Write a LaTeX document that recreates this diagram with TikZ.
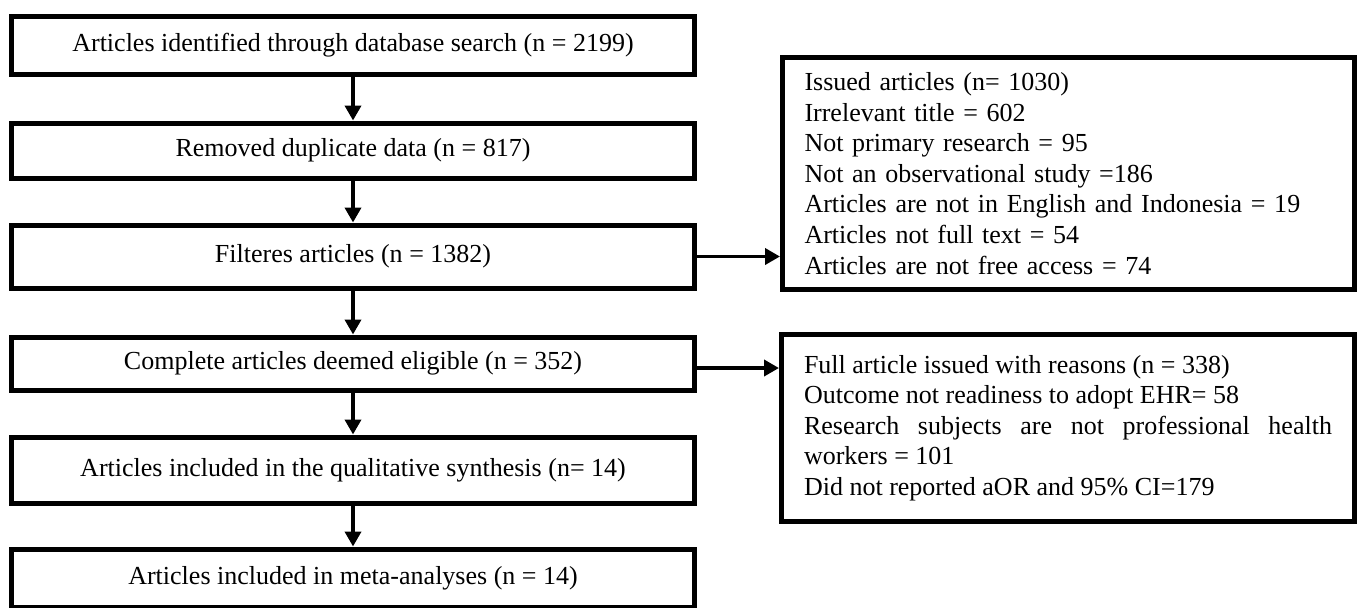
\documentclass[tikz,border=0pt]{standalone}
\usepackage{fontspec}
\setmainfont{Liberation Serif}
\usetikzlibrary{arrows.meta}

\begin{document}
\begin{tikzpicture}[
  box/.style={draw,line width=2.85pt,minimum width=13.66cm,inner sep=0pt,font=\fontsize{14.8}{17.4}\selectfont},
  note/.style={draw,line width=2.85pt,inner sep=0pt,text width=10.56cm,font=\fontsize{14.8}{17.4}\selectfont},
  arr/.style={line width=2.1pt,-{Triangle[length=0.3cm,width=0.32cm]}}
]
  \useasboundingbox (0,0) rectangle (27.26,-12.14);
  \node[box,minimum height=1.16cm] (search) at (7.06,-0.90) {Articles identified through database search (n = 2199)};
  \node[box,minimum height=1.10cm] (dupl) at (7.06,-3.01) {Removed duplicate data (n = 817)};
  \node[box,minimum height=1.26cm] (filt) at (7.06,-5.13) {Filteres articles (n = 1382)};
  \node[box,minimum height=1.06cm] (elig) at (7.06,-7.27) {Complete articles deemed eligible (n = 352)};
  \node[box,minimum height=1.32cm] (quali) at (7.06,-9.40) {Articles included in the qualitative synthesis (n= 14)};
  \node[box,minimum height=1.16cm] (meta) at (7.06,-11.56) {Articles included in meta-analyses (n = 14)};
  \node[note,align=left,minimum width=11.44cm,minimum height=4.64cm] (issued) at (21.37,-3.47) {Issued articles (n= 1030)\\
    Irrelevant title = 602\\
    Not primary research = 95\\
    Not an observational study =186\\
    Articles are not in English and Indonesia = 19\\
    Articles not full text = 54\\
    Articles are not free access = 74};
  \node[note,align=justify,minimum width=11.46cm,minimum height=3.74cm] (full) at (21.36,-8.56) {Full article issued with reasons (n = 338)\\
    Outcome not readiness to adopt EHR= 58\\
    Research subjects are not professional health\linebreak workers = 101\\
    Did not reported aOR and 95\% CI=179};
  \draw[arr] (search) -- (dupl);
  \draw[arr] (dupl) -- (filt);
  \draw[arr] (filt) -- (elig);
  \draw[arr] (elig) -- (quali);
  \draw[arr] (quali) -- (meta);
  \draw[arr] (filt.east) -- (filt.east -| issued.west);
  \draw[arr] ([yshift=-0.09cm]elig.east) -- ([yshift=-0.09cm]elig.east -| full.west);
\end{tikzpicture}
\end{document}
